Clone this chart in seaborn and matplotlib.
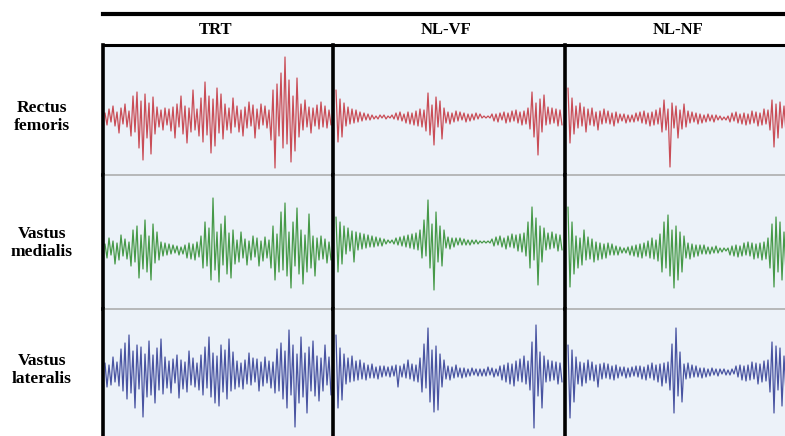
import numpy as np
import pandas as pd
import matplotlib
matplotlib.use("Agg")
import matplotlib.pyplot as plt
import seaborn as sns

# column headers and row labels
conditions = ["TRT", "NL-VF", "NL-NF"]
muscles = ["Rectus femoris", "Vastus medialis", "Vastus lateralis"]
row_labels = ["Rectus\nfemoris", "Vastus\nmedialis", "Vastus\nlateralis"]

# EMG traces (amplitude, pixel-ish units, + is up)
trt_rf = [5, -7, 9, -4, 12, -8, 6, -15, 10, -6, 14, -9, 7,
          -18, 22, -14, 26, -30, 17, -42, 24, -20, 15, -36, 21, -16,
          11, -9, 8, -12, 10, -7, 9,
          -13, 11, -20, 14, -9, 22, -16, 12, -25, 10, -14, 28, -12, 9, -18,
          20, -24, 36, -17, 22, -35, 19, -28, 30, -15, 24, -21, 14,
          -12, 10, -15, 20, -9, 12, -14, 8, -18, 11, -10, 16, -8, 13, -20, 9, -11, 14, -7, 12, -10, 8,
          -22, 28, -50, 34, -18, 45, -30, 61, -26, 38, -44, 22, -33, 40, -19,
          14, -12, 18, -9, 11, -15, 10, -8, 13, -11, 16, -9, 12, -10, 8, -7]
trt_vm = [6, -8, 12, -5, 9, -14, 7, -10, 15, -6, 11, -9, 8,
          -16, 20, -12, 24, -28, 15, -19, 30, -22, 14, -30, 26, -13, 18, -10,
          8, -6, 7, -5, 6, -4, 5, -3, 4, -5, 3, -4, 5,
          -8, 7, -9, 6, -10, 8, -7,
          14, -18, 28, -16, 22, -30, 52, -20, 18, -32, 26, -15, 34, -24, 17, -28, 20, -14,
          10, -12, 18, -8, 11, -15, 9, -10, 14, -7, 12, -16, 9, -11, 13, -8, 10,
          -18, 24, -30, 16, -22, 38, -20, 47, -26, 18, -38, 28, -16, 42, -24, 20, -34, 15, -22, 36, -18, 14, -26,
          12, -10, 14, -9, 11, -13, 8, -10]
trt_vl = [10, -14, 8, -12, 16, -9, 11, -13,
          24, -18, 30, -26, 38, -20, 22, -35, 28, -16, 26, -44, 19, -24, 32, -22, 18, -30, 25, -17, 34, -21, 16,
          -15, 12, -20, 14, -10, 18, -25, 13, -16, 11, -19, 22, -12, 15, -14, 10, -17,
          18, -22, 26, -15, 36, -24, 20, -30, 17, -33, 28, -19, 23, -26, 34, -18, 21, -16,
          12, -14, 10, -16, 13, -11, 20, -12, 15, -9, 14, -18, 11, -13, 16, -10, 12, -15, 11,
          -20, 24, -18, 30, -26, 22, -35, 43, -22, 28, -54, 19, -30, 36, -24, 20, -40, 26, -18, 32, -23, 17, -28,
          15, -18, 28, -12, 16, -22]

vf_rf = [27, -25, 18, -20, 14,
         -9, 10, -7, 8, -6, 7, -5, 5, -4, 4, -3, 3, -3,
         2, -2, 1, -2, 2, -1, 2, -2, 1, -1, 2, -2,
         4, -3, 5, -4, 3, -6, 5, -7, 4, -8, 6, -9, 8, -10, 7,
         -14, 24, -18, 12, -28, 20, -10, 16, -22, 9,
         -6, 5, -7, 4, -5, 6, -4, 5, -3, 4, -5, 3, -4, 3, -3, 4, -2, 3,
         -1, 1, -1, 1, -1,
         3, -4, 3, -5, 4, -3, 5, -6, 4, -5, 6, -4, 7, -6, 5, -8, 6, -7, 9,
         -12, 25, -20, 14, -38, 18, -15, 22,
         -8, 10, -7, 9, -6, 8, -9, 7, -8]
vf_vm = [25, -30, 20, -22, 16,
         -12, 14, -9, 11, -20, 10, -8, 9, -7, 8, -6, 7, -5, 6, -5, 5, -4, 4, -4, 3,
         -2, 2, -1, 2, -2,
         4, -3, 5, -4, 6, -5, 7, -6, 8, -7, 9, -8,
         12, -16, 22, -14, 42, -26, 18, -48, 30, -20, 16, -24, 12,
         -6, 5, -7, 4, -5, 4, -3, 4, -3, 3, -3, 2, -3, 2, -2, 2, -2, 1,
         -1, 1, -1, 1, -1,
         3, -4, 5, -3, 6, -5, 4, -7, 6, -5, 8, -6, 7, -9, 8, -10, 9,
         -14, 20, -26, 35, -18, 24, -43, 16, -20, 14,
         -8, 9, -7, 10, -6, 8, -9, 7, -8]
vf_vl = [37, -36, 24, -28, 18,
         -12, 14, -10, 16, -9, 11, -8, 12, -7, 9, -8, 7, -6, 8, -6, 5, -7, 6, -5, 6, -4, 5,
         -5, 6, -4, 7, -15, 6, -5, 8, -6, 12, -7, 8, -9, 7, -10,
         14, -20, 28, -16, 44, -30, 22, -40, 26, -38, 18, -15, 12,
         -7, 6, -8, 5, -6, 7, -5, 4, -6, 4, -5, 3, -4, 4, -3, 3, -4, 3,
         -4, 3, -4, 5, -3, 4, -5, 3, -4,
         6, -8, 7, -10, 9, -12, 8, -14, 11, -9, 13, -10, 16, -12, 11,
         -18, 30, -56, 47, -24, 20, -36, 16,
         -10, 12, -9, 11, -8, 10, -12, 9, -10]

nf_rf = [30, -25, 20, -16,
         12, -10, 15, -8, 11, -14, 9, -7, 10, -8, 6, -12, 7, -6, 9, -5, 7, -6, 5, -8, 6, -5,
         4, -3, 4, -5, 3, -4, 3, -4, 5, -3,
         6, -5, 7, -6, 5, -8, 6, -7, 8, -6,
         10, -14, 18, -12, 9, -49, 15, -10, 12, -20, 8, -11, 14, -9, 7,
         -5, 6, -4, 5, -6, 4, -5, 3, -4, 4, -3, 3, -4, 3, -2,
         2, -2, 1, -2, 2,
         -4, 5, -3, 6, -5, 4, -6, 5, -7, 4, -6, 7, -5, 6, -8, 5, -7, 9, -6, 8,
         -12, 18, -29, 14, -20, 16, -10, 12, -15]
nf_vm = [43, -37, 28, -24,
         14, -18, 12, -15, 20, -10, 13, -9, 11, -12, 8, -10, 7, -9, 6, -8, 7, -5, 6, -5, 4, -5,
         3, -3, 2, -3, 3,
         -5, 4, -6, 5, -7, 6, -8, 7, -6, 9, -8, 12, -9, 10, -11,
         16, -22, 28, -18, 35, -26, 20, -38, 24, -30, 18, -22, 14,
         -8, 7, -9, 6, -7, 5, -6, 5, -4, 5, -4, 3, -4, 3, -3, 4, -3,
         2, -2, 2, -1, 2,
         -5, 4, -6, 5, -7, 4, -6, 7, -5, 8, -6, 7, -9, 6, -8, 7, -10, 8, -9, 12,
         -18, 26, -37, 33, -22, 28, -30, 18, -24]
nf_vl = [27, -46, 22, -30,
         15, -12, 10, -14, 9, -11, 12, -8, 10, -9, 7, -15, 8, -7, 9, -6, 8, -7, 6, -8, 7, -6,
         5, -4, 5, -6, 4, -5, 5, -4, 6, -5,
         6, -7, 5, -8, 7, -6, 9, -8, 7, -10, 8, -14, 9, -11, 10,
         -18, 28, -41, 44, -24, 20, -30,
         8, -7, 9, -6, 7, -5, 6, -5, 4, -6, 4, -5, 3, -4, 4, -3, 3, -4,
         3, -2, 3, -3, 2, -3, 3, -2,
         6, -5, 7, -8, 6, -9, 7, -8, 10, -7, 9, -12, 8, -10, 11, -9, 12,
         -20, 30, -41, 26, -18, 24, -34, 16, -22]

traces = [[trt_rf, trt_vm, trt_vl],
          [vf_rf, vf_vm, vf_vl],
          [nf_rf, nf_vm, nf_vl]]

frames = []
for c, cond in enumerate(conditions):
    for r, mus in enumerate(muscles):
        vals = traces[c][r]
        frames.append(pd.DataFrame({"condition": cond, "muscle": mus,
                                    "sample": np.arange(len(vals)), "amp": vals}))
df = pd.concat(frames, ignore_index=True)

colors = ["#C3303A", "#2A8A2A", "#2C3892"]

# layout in pixels
W, H = 785, 436
col_left = [103, 333, 565]
col_w = 230
trace_start = [105, 336, 568]
row_top = [45, 175, 309]
row_bot = [175, 309, 436]
centers = [[118, 250, 373], [117, 242, 372], [118, 250, 372]]

sns.set_style("white")
plt.rcParams["font.family"] = ["Liberation Serif", "DejaVu Serif"]
plt.rcParams["text.color"] = "black"

fig = plt.figure(figsize=(W / 100, H / 100), dpi=100)

for c, cond in enumerate(conditions):
    for r, mus in enumerate(muscles):
        ax = fig.add_axes([col_left[c] / W, 1 - row_bot[r] / H,
                           col_w / W, (row_bot[r] - row_top[r]) / H])
        ax.set_facecolor("#ECF2F9")
        sub = df[(df["condition"] == cond) & (df["muscle"] == mus)]
        sns.lineplot(data=sub, x="sample", y="amp", ax=ax, color=colors[r],
                     linewidth=0.9, alpha=0.85, estimator=None, sort=False)
        x0 = (col_left[c] - trace_start[c]) / 2
        ax.set_xlim(x0, x0 + col_w / 2)
        ctr = centers[c][r]
        ax.set_ylim(-(row_bot[r] - ctr), ctr - row_top[r])
        ax.set_xticks([])
        ax.set_yticks([])
        ax.set_xlabel("")
        ax.set_ylabel("")
        for s in ["right", "bottom"]:
            ax.spines[s].set_visible(False)
        ax.spines["left"].set_color("black")
        ax.spines["left"].set_linewidth(2.6)
        if r == 0:
            ax.spines["top"].set_color("black")
            ax.spines["top"].set_linewidth(2.2)
        else:
            ax.spines["top"].set_color("#A8A8A8")
            ax.spines["top"].set_linewidth(1.1)
        ax.spines["left"].set_zorder(5)

# header band with thick top rule
hax = fig.add_axes([103 / W, 1 - 45 / H, (W - 103) / W, 31 / H])
hax.set_xlim(103, W)
hax.set_ylim(45, 14)
hax.patch.set_alpha(0)
hax.set_xticks([])
hax.set_yticks([])
for s in ["left", "right", "bottom"]:
    hax.spines[s].set_visible(False)
hax.spines["top"].set_linewidth(3.0)
hax.spines["top"].set_color("black")
for c, cond in enumerate(conditions):
    hax.text(col_left[c] + col_w / 2 - 2, 30, cond, ha="center", va="center",
             fontsize=12, fontweight="bold", color="black")

for r, lab in enumerate(row_labels):
    ymid = [117, 243, 370][r]
    fig.text(42 / W, 1 - ymid / H, lab, ha="center", va="center",
             fontsize=12.5, fontweight="bold", linespacing=1.2, color="black")

fig.savefig("out.png", dpi=100)
